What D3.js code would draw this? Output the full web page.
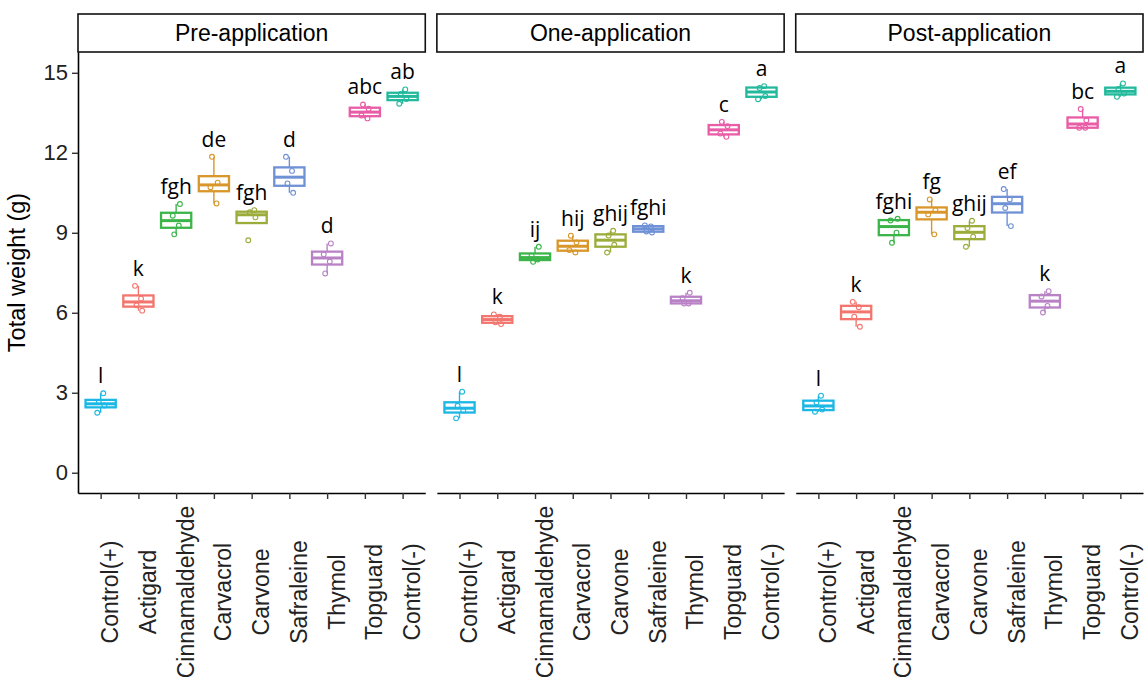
<!DOCTYPE html>
<html>
<head>
<meta charset="utf-8">
<script src="https://cdn.jsdelivr.net/npm/d3@7"></script>
<style>
  body { margin: 0; background: #fff; }
  svg { display: block; }
</style>
</head>
<body>
<svg id="chart"></svg>
<script>
// treatments, in axis order
const treatments = ['Control(+)', 'Actigard', 'Cinnamaldehyde', 'Carvacrol', 'Carvone',
  'Safraleine', 'Thymol', 'Topguard', 'Control(-)'];
const phases = ['Pre-application', 'One-application', 'Post-application'];

// replicate weights (g) per treatment
const preWeights = [
  [2.25, 2.52, 2.65, 2.98], [6.08, 6.28, 6.53, 7.01], [8.94, 9.27, 9.64, 10.08],
  [10.1, 10.71, 10.88, 11.85], [8.72, 9.58, 9.77, 9.85], [10.5, 10.85, 11.32, 11.85],
  [7.475, 7.92, 8.19, 8.6], [13.29, 13.4, 13.65, 13.81], [13.84, 14.02, 14.21, 14.375]
];
const oneWeights = [
  [2.04, 2.33, 2.51, 3.04], [5.575, 5.64, 5.85, 5.94], [7.91, 8.0, 8.14, 8.475],
  [8.26, 8.35, 8.64, 8.89], [8.26, 8.55, 8.895, 9.075], [9.01, 9.05, 9.24, 9.275],
  [6.35, 6.35, 6.55, 6.75], [12.6, 12.72, 13.0, 13.16], [14.01, 14.13, 14.43, 14.5]
];
const postWeights = [
  [2.29, 2.37, 2.64, 2.89], [5.475, 5.855, 6.21, 6.41], [8.625, 9.005, 9.46, 9.525],
  [8.94, 9.69, 9.85, 10.25], [8.475, 8.855, 9.18, 9.45], [9.25, 9.93, 10.25, 10.64],
  [6.01, 6.26, 6.61, 6.81], [12.94, 12.94, 13.22, 13.64], [14.1, 14.22, 14.39, 14.6]
];

// significance letters
const preLetters = ['l', 'k', 'fgh', 'de', 'fgh', 'd', 'd', 'abc', 'ab'];
const oneLetters = ['l', 'k', 'ij', 'hij', 'ghij', 'fghi', 'k', 'c', 'a'];
const postLetters = ['l', 'k', 'fghi', 'fg', 'ghij', 'ef', 'k', 'bc', 'a'];

const yTicks = [0, 3, 6, 9, 12, 15];

const panels = [
  {name: phases[0], weights: preWeights, letters: preLetters},
  {name: phases[1], weights: oneWeights, letters: oneLetters},
  {name: phases[2], weights: postWeights, letters: postLetters}
];

const colors = ['#1db7e4', '#f3766e', '#3bb54a', '#d9962a', '#9bac3a',
  '#6f91d6', '#b982c6', '#e95ca6', '#22b99c'];
const jitter = [-0.09, 0.1, -0.05, 0.07];

const width = 1144, height = 680;
const margin = {top: 52, left: 78, right: 1, bottom: 187};
const stripTop = 14;
const gap = 11.6;
const panelW = (width - margin.left - margin.right - 2 * gap) / 3;
const plotBottom = height - margin.bottom;

const svg = d3.select('#chart')
  .attr('width', width)
  .attr('height', height);

const y = d3.scaleLinear()
  .domain([-0.76, 15.78])
  .range([plotBottom, margin.top]);

function boxStats(values) {
  const v = values.slice().sort(d3.ascending);
  const q1 = d3.quantile(v, 0.25), med = d3.quantile(v, 0.5), q3 = d3.quantile(v, 0.75);
  const iqr = q3 - q1;
  const inside = v.filter(d => d >= q1 - 1.5 * iqr && d <= q3 + 1.5 * iqr);
  return {q1, med, q3, lo: d3.min(inside), hi: d3.max(inside), max: d3.max(v)};
}

// y axis (first panel only)
const yAxis = svg.append('g')
  .attr('transform', `translate(${margin.left},0)`)
  .call(d3.axisLeft(y).tickValues(yTicks).tickSize(6).tickSizeOuter(0).tickPadding(4));
yAxis.select('.domain').attr('stroke', '#000').attr('stroke-width', 1.6);
yAxis.selectAll('.tick line').attr('stroke', '#333').attr('stroke-width', 1.4);
yAxis.selectAll('.tick text')
  .attr('fill', '#222')
  .style('font-family', '"Liberation Sans", Arial, sans-serif')
  .style('font-size', '22px');

svg.append('text')
  .attr('transform', `translate(25, ${(margin.top + plotBottom) / 2}) rotate(-90)`)
  .attr('text-anchor', 'middle')
  .style('font-family', '"Liberation Sans", Arial, sans-serif')
  .style('font-size', '23.5px')
  .attr('fill', '#000')
  .text('Total weight (g)');

panels.forEach((panel, p) => {
  const left = margin.left + p * (panelW + gap);
  const x = d3.scalePoint()
    .domain(treatments)
    .range([left, left + panelW])
    .padding(0.6);
  const step = x.step();
  const boxW = step * 0.8;

  // strip
  svg.append('rect')
    .attr('x', left)
    .attr('y', stripTop)
    .attr('width', panelW)
    .attr('height', margin.top - stripTop)
    .attr('fill', '#fff')
    .attr('stroke', '#111')
    .attr('stroke-width', 1.6);
  svg.append('text')
    .attr('x', left + panelW / 2)
    .attr('y', (stripTop + margin.top) / 2)
    .attr('dy', '0.35em')
    .attr('text-anchor', 'middle')
    .style('font-family', '"Liberation Sans", Arial, sans-serif')
    .style('font-size', '23px')
    .attr('fill', '#000')
    .text(panel.name);

  // x axis
  const xAxis = svg.append('g')
    .attr('transform', `translate(0,${plotBottom})`)
    .call(d3.axisBottom(x).tickSize(6).tickSizeOuter(0));
  xAxis.select('.domain').attr('stroke', '#000').attr('stroke-width', 1.6);
  xAxis.selectAll('.tick line').attr('stroke', '#333').attr('stroke-width', 1.4);
  xAxis.selectAll('.tick text')
    .attr('x', 0).attr('y', 0).attr('dy', null)
    .attr('transform', `translate(17, ${592 - plotBottom}) rotate(-90)`)
    .attr('text-anchor', 'middle')
    .attr('fill', '#222')
    .style('font-family', '"Liberation Sans", Arial, sans-serif')
    .style('font-size', '23px');

  const data = treatments.map((t, i) => ({
    t, i, values: panel.weights[i], letter: panel.letters[i], stats: boxStats(panel.weights[i])
  }));

  const g = svg.append('g');
  const groups = g.selectAll('.box')
    .data(data)
    .enter()
    .append('g')
    .attr('class', 'box');

  // whiskers
  groups.append('line')
    .attr('x1', d => x(d.t)).attr('x2', d => x(d.t))
    .attr('y1', d => y(d.stats.q3)).attr('y2', d => y(d.stats.hi))
    .attr('stroke', d => colors[d.i]).attr('stroke-width', 1.4);
  groups.append('line')
    .attr('x1', d => x(d.t)).attr('x2', d => x(d.t))
    .attr('y1', d => y(d.stats.q1)).attr('y2', d => y(d.stats.lo))
    .attr('stroke', d => colors[d.i]).attr('stroke-width', 1.4);

  // box
  groups.append('rect')
    .attr('x', d => x(d.t) - boxW / 2)
    .attr('y', d => y(d.stats.q3))
    .attr('width', boxW)
    .attr('height', d => y(d.stats.q1) - y(d.stats.q3))
    .attr('fill', '#fff')
    .attr('stroke', d => colors[d.i])
    .attr('stroke-width', 2.3);

  // median
  groups.append('line')
    .attr('x1', d => x(d.t) - boxW / 2).attr('x2', d => x(d.t) + boxW / 2)
    .attr('y1', d => y(d.stats.med)).attr('y2', d => y(d.stats.med))
    .attr('stroke', d => colors[d.i]).attr('stroke-width', 3);

  // replicate points
  groups.selectAll('circle')
    .data(d => d.values.map((v, k) => ({v, k, i: d.i, t: d.t})))
    .enter()
    .append('circle')
    .attr('cx', d => x(d.t) + jitter[(d.k + d.i) % 4] * step)
    .attr('cy', d => y(d.v))
    .attr('r', 2.4)
    .attr('fill', 'none')
    .attr('stroke', d => colors[d.i])
    .attr('stroke-width', 1.1);

  // letters
  groups.append('text')
    .attr('x', d => x(d.t))
    .attr('y', d => y(d.stats.max + 0.38))
    .attr('text-anchor', 'middle')
    .style('font-family', '"Open Sans", sans-serif')
    .style('font-size', '21px')
    .attr('fill', '#000')
    .text(d => d.letter);
});
</script>
</body>
</html>
